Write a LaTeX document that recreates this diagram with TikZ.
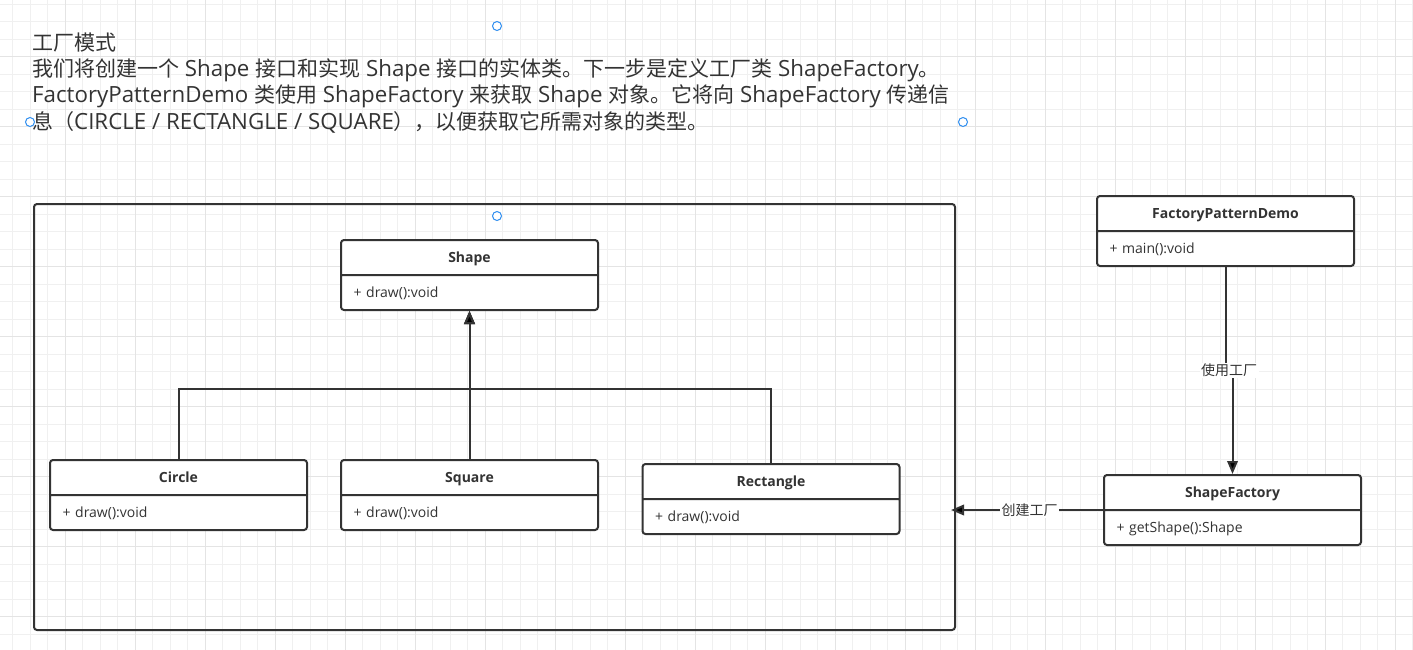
\documentclass[tikz,border=0pt]{standalone}
\usepackage{fontspec}
\setmainfont{Open Sans}
\newfontfamily\cjk{Noto Sans CJK SC}
\newcommand\zh[1]{{\fontsize{21}{26.3}\selectfont\cjk #1}}
\newcommand\rowstrut{\vrule height 13.3pt depth 3.7pt width 0pt}
\newcommand\clsname[1]{\noindent\makebox[232pt]{\textbf{#1}\rowstrut}}
\usetikzlibrary{shapes.multipart,arrows.meta,calc}
\definecolor{ink}{HTML}{333333}
\definecolor{gridlo}{HTML}{F0F0F0}
\definecolor{gridhi}{HTML}{E4E4E4}
\definecolor{handleblue}{HTML}{2F8EF0}
\tikzset{
  umlclass/.style={rectangle split, rectangle split parts=2, draw=ink, line width=2pt,
    rounded corners=3pt, fill=white, text=ink, text width=232pt, inner xsep=12.5pt,
    inner ysep=8pt, font=\fontsize{14}{17}\selectfont},
  link/.style={draw=ink, line width=2pt, -{Triangle[length=13pt,width=10.5pt]}},
  tag/.style={fill=white, text=ink, font=\fontsize{14}{17}\selectfont\cjk, inner sep=1.5pt},
  handle/.style={circle, draw=handleblue, line width=1pt, fill=white, minimum size=9pt, inner sep=0pt},
  intro/.style={text=ink, font=\fontsize{22.3}{26.3}\selectfont, align=left, inner sep=0pt}
}
\begin{document}
\begin{tikzpicture}[x=1pt, y=-1pt]
\useasboundingbox (0,0) rectangle (1413,649);
\clip (0,0) rectangle (1413,649);
\fill[white] (0,0) rectangle (1413,649);
% background grid
\draw[gridlo, line width=1pt, xshift=12.5pt, yshift=-4.2pt] (-20,-20) grid[step=17.5pt] (1420,670);
\draw[gridhi, line width=1pt, xshift=65pt, yshift=-56.7pt] (-80,-80) grid[step=70pt] (1420,670);

\node[intro, anchor=north west] (intro) at (32,32.5) {\zh{工厂模式}\\
\zh{我们将创建一个} Shape \zh{接口和实现} Shape \zh{接口的实体类。下一步是定义工厂类} ShapeFactory\zh{。}\\
FactoryPatternDemo \zh{类使用} ShapeFactory \zh{来获取} Shape \zh{对象。它将向} ShapeFactory \zh{传递信}\\
\zh{息（}CIRCLE / RECTANGLE / SQUARE\zh{），以便获取它所需对象的类型。}};

% frame round the products
\node[draw=ink, line width=2pt, rounded corners=3pt, minimum width=921pt, minimum height=426pt] (panel) at (494.5,417) {};

\node[umlclass] (shapebox) at (469.5,275) {\clsname{Shape}\nodepart{two}\noindent+ draw():void\rowstrut};
\node[umlclass] (circlebox) at (178.5,495) {\clsname{Circle}\nodepart{two}\noindent+ draw():void\rowstrut};
\node[umlclass] (squarebox) at (469.5,495) {\clsname{Square}\nodepart{two}\noindent+ draw():void\rowstrut};
\node[umlclass] (rectbox) at (771,499) {\clsname{Rectangle}\nodepart{two}\noindent+ draw():void\rowstrut};
\node[umlclass] (demobox) at (1225.5,231) {\clsname{FactoryPatternDemo}\nodepart{two}\noindent+ main():void\rowstrut};
\node[umlclass] (factorybox) at (1232.5,510) {\clsname{ShapeFactory}\nodepart{two}\noindent+ getShape():Shape\rowstrut};

% inheritance
\coordinate (bus) at ($(shapebox.south)+(0,78)$);
\draw[link] (circlebox.north) |- (bus) -- (shapebox.south);
\draw[link] (rectbox.north) |- (bus) -- (shapebox.south);
\draw[link] (squarebox.north) -- (shapebox.south);

% demo uses the factory
\coordinate (usemid) at ($(demobox.south)!0.5!(factorybox.north)$);
\draw[link] (demobox.south) |- (usemid) -| (factorybox.north);
\node[tag] (uselbl) at (usemid) {使用工厂};

% factory makes the shapes
\coordinate (drop) at ($(panel.east |- factorybox.west)+(-5,0)$);
\draw[link] (factorybox.west) -- (drop);
\node[tag] (makelbl) at ($(factorybox.west)!0.5!(panel.east |- factorybox.west)$) {创建工厂};

\node[handle] (htop) at (497,26) {};
\node[handle] (hleft) at (30,122) {};
\node[handle] (hright) at (963,122) {};
\node[handle] (hbottom) at (497,216) {};
\end{tikzpicture}
\end{document}
